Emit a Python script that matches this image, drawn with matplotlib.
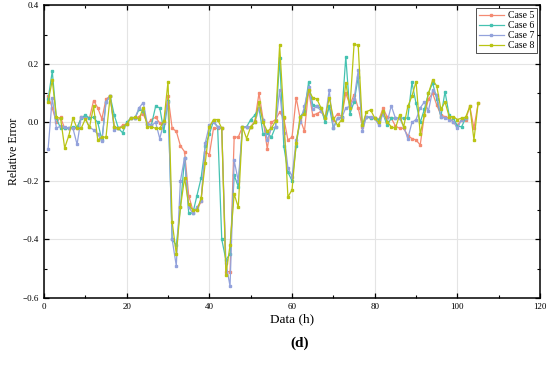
import numpy as np
import matplotlib.pyplot as plt
from matplotlib.ticker import MultipleLocator

plt.rcParams["font.family"] = ["Liberation Serif", "DejaVu Serif"]

# horas
hours_long = list(range(1, 106))   # casos 5 y 8
hours_short = list(range(1, 103))  # casos 6 y 7

case5 = [0.09, 0.05, 0.0, 0.017, -0.02, -0.02, -0.02, -0.02, 0.017, 0.017,
         0.015, 0.075, 0.05, 0.012, 0.08, 0.09, -0.015, -0.02, -0.01, -0.005,
         0.015, 0.015, 0.02, 0.03, -0.005, 0.01, 0.018, -0.002, -0.002, 0.09,
         -0.02, -0.03, -0.08, -0.1, -0.25, -0.3, -0.3, -0.27, -0.1, -0.11,
         -0.02, -0.02, -0.02, -0.51, -0.51, -0.05, -0.05, -0.015, -0.015, -0.015,
         0.005, 0.1, 0.01, -0.09, 0.0, 0.01, 0.035, 0.015, -0.06, -0.05,
         0.085, 0.01, -0.03, 0.11, 0.025, 0.03, 0.038, 0.015, 0.055, 0.01,
         0.03, 0.02, 0.1, 0.06, 0.095, 0.05, -0.015, 0.02, 0.015, 0.015,
         0.01, 0.048, 0.02, 0.015, -0.012, -0.02, -0.02, -0.045, -0.055, -0.06,
         -0.077, 0.025, 0.08, 0.1, 0.06, 0.025, 0.02, 0.015, 0.003, -0.01,
         0.01, 0.01, 0.055, -0.02, 0.065]

case6 = [0.08, 0.175, 0.015, -0.02, -0.02, -0.02, -0.017, -0.017, 0.015, 0.025,
         0.015, 0.018, 0.0, -0.06, 0.07, 0.09, 0.025, -0.02, -0.035, 0.0,
         0.015, 0.015, 0.045, 0.04, -0.005, -0.007, 0.055, 0.05, -0.03, 0.075,
         -0.4, -0.42, -0.29, -0.12, -0.31, -0.31, -0.25, -0.19, -0.08, -0.04,
         0.005, -0.015, -0.4, -0.47, -0.45, -0.18, -0.22, -0.015, -0.015, 0.01,
         0.025, 0.05, -0.04, -0.035, -0.05, -0.015, 0.22, -0.08, -0.17, -0.2,
         -0.08, 0.02, 0.04, 0.137, 0.06, 0.055, 0.05, 0.0, 0.055, -0.02,
         0.015, 0.018, 0.225, 0.03, 0.07, 0.155, -0.01, 0.02, 0.015, 0.015,
         0.01, 0.03, -0.01, 0.015, 0.015, 0.015, 0.015, 0.015, 0.137, 0.065,
         0.0, 0.045, 0.1, 0.135, 0.08, 0.02, 0.105, 0.025, 0.015, -0.012,
         -0.015, 0.015]

case7 = [-0.09, 0.085, -0.02, -0.012, -0.017, -0.02, -0.02, -0.075, 0.017, 0.015,
         -0.017, -0.025, -0.04, -0.065, 0.07, 0.09, -0.025, -0.02, -0.015, -0.005,
         0.015, 0.015, 0.05, 0.068, -0.005, -0.01, 0.0, -0.055, 0.0, 0.07,
         -0.4, -0.49, -0.2, -0.12, -0.29, -0.31, -0.29, -0.27, -0.07, -0.01,
         0.0, -0.015, -0.02, -0.48, -0.56, -0.13, -0.2, -0.015, -0.015, -0.015,
         0.0, 0.05, 0.01, -0.06, -0.02, -0.015, 0.11, -0.035, -0.155, -0.185,
         -0.06, 0.0, 0.055, 0.12, 0.045, 0.055, 0.04, 0.015, 0.11, -0.02,
         0.015, 0.015, 0.05, 0.055, 0.08, 0.178, -0.03, 0.02, 0.02, 0.015,
         -0.01, 0.03, 0.0, 0.057, 0.015, 0.015, -0.015, -0.055, 0.0, 0.01,
         0.05, 0.07, 0.04, 0.11, 0.095, 0.02, 0.015, 0.01, 0.003, -0.02,
         0.01, 0.015]

case8 = [0.07, 0.145, 0.017, 0.015, -0.087, -0.045, 0.015, -0.02, -0.02, 0.012,
         -0.017, 0.055, -0.06, -0.05, -0.05, 0.09, -0.015, -0.02, -0.015, -0.005,
         0.015, 0.018, 0.012, 0.05, -0.015, -0.015, -0.02, -0.02, 0.005, 0.14,
         -0.34, -0.45, -0.29, -0.19, -0.28, -0.3, -0.3, -0.26, -0.14, -0.015,
         0.01, 0.01, -0.02, -0.52, -0.42, -0.245, -0.29, -0.015, -0.055, -0.015,
         0.0, 0.07, 0.0, -0.03, -0.02, 0.005, 0.265, 0.02, -0.255, -0.23,
         -0.07, 0.02, 0.03, 0.11, 0.085, 0.08, 0.05, 0.015, 0.085, 0.015,
         -0.01, 0.01, 0.135, 0.05, 0.267, 0.264, -0.01, 0.037, 0.043, 0.015,
         0.0, 0.04, 0.003, -0.015, -0.02, 0.025, -0.015, 0.055, 0.09, 0.14,
         -0.04, 0.025, 0.1, 0.145, 0.125, 0.045, 0.07, 0.02, 0.02, 0.01,
         0.015, 0.018, 0.055, -0.06, 0.065]

fig = plt.figure(figsize=(5.5, 3.66), dpi=100)
ax = fig.add_axes([0.08, 0.186, 0.902, 0.799])

series = [
    (hours_long, case5, "Case 5", "#f48a72"),
    (hours_short, case6, "Case 6", "#45c2b1"),
    (hours_short, case7, "Case 7", "#93a2dc"),
    (hours_long, case8, "Case 8", "#b9c414"),
]
for x, y, lab, col in series:
    ax.plot(x, y, "-s", color=col, lw=0.9, ms=1.6, label=lab)

ax.set_xlim(0, 120)
ax.set_ylim(-0.6, 0.4)
ax.xaxis.set_major_locator(MultipleLocator(20))
ax.xaxis.set_minor_locator(MultipleLocator(10))
ax.yaxis.set_major_locator(MultipleLocator(0.2))
ax.yaxis.set_minor_locator(MultipleLocator(0.1))
ax.tick_params(which="both", direction="in", top=True, right=True, labelsize=6.5)
ax.tick_params(which="major", length=3.5, width=0.9)
ax.tick_params(which="minor", length=2, width=0.8)
ax.grid(True, which="major", color="#e4e4e4", lw=0.8)
ax.set_axisbelow(True)
for s in ax.spines.values():
    s.set_linewidth(1.1)

ax.set_xlabel("Data (h)", fontsize=9.5, labelpad=2)
ax.set_ylabel("Relative Error", fontsize=8.5, labelpad=2)

leg = ax.legend(loc="upper right", fontsize=7, frameon=True, fancybox=False,
                borderpad=0.3, handlelength=2.6, labelspacing=0.1,
                borderaxespad=0.3, handletextpad=0.4)
leg.get_frame().set_edgecolor("black")
leg.get_frame().set_linewidth(0.6)

fig.text(0.545, 0.062, "(d)", ha="center", va="center", fontsize=11,
         fontweight="bold")

fig.savefig("out.png", dpi=100)
